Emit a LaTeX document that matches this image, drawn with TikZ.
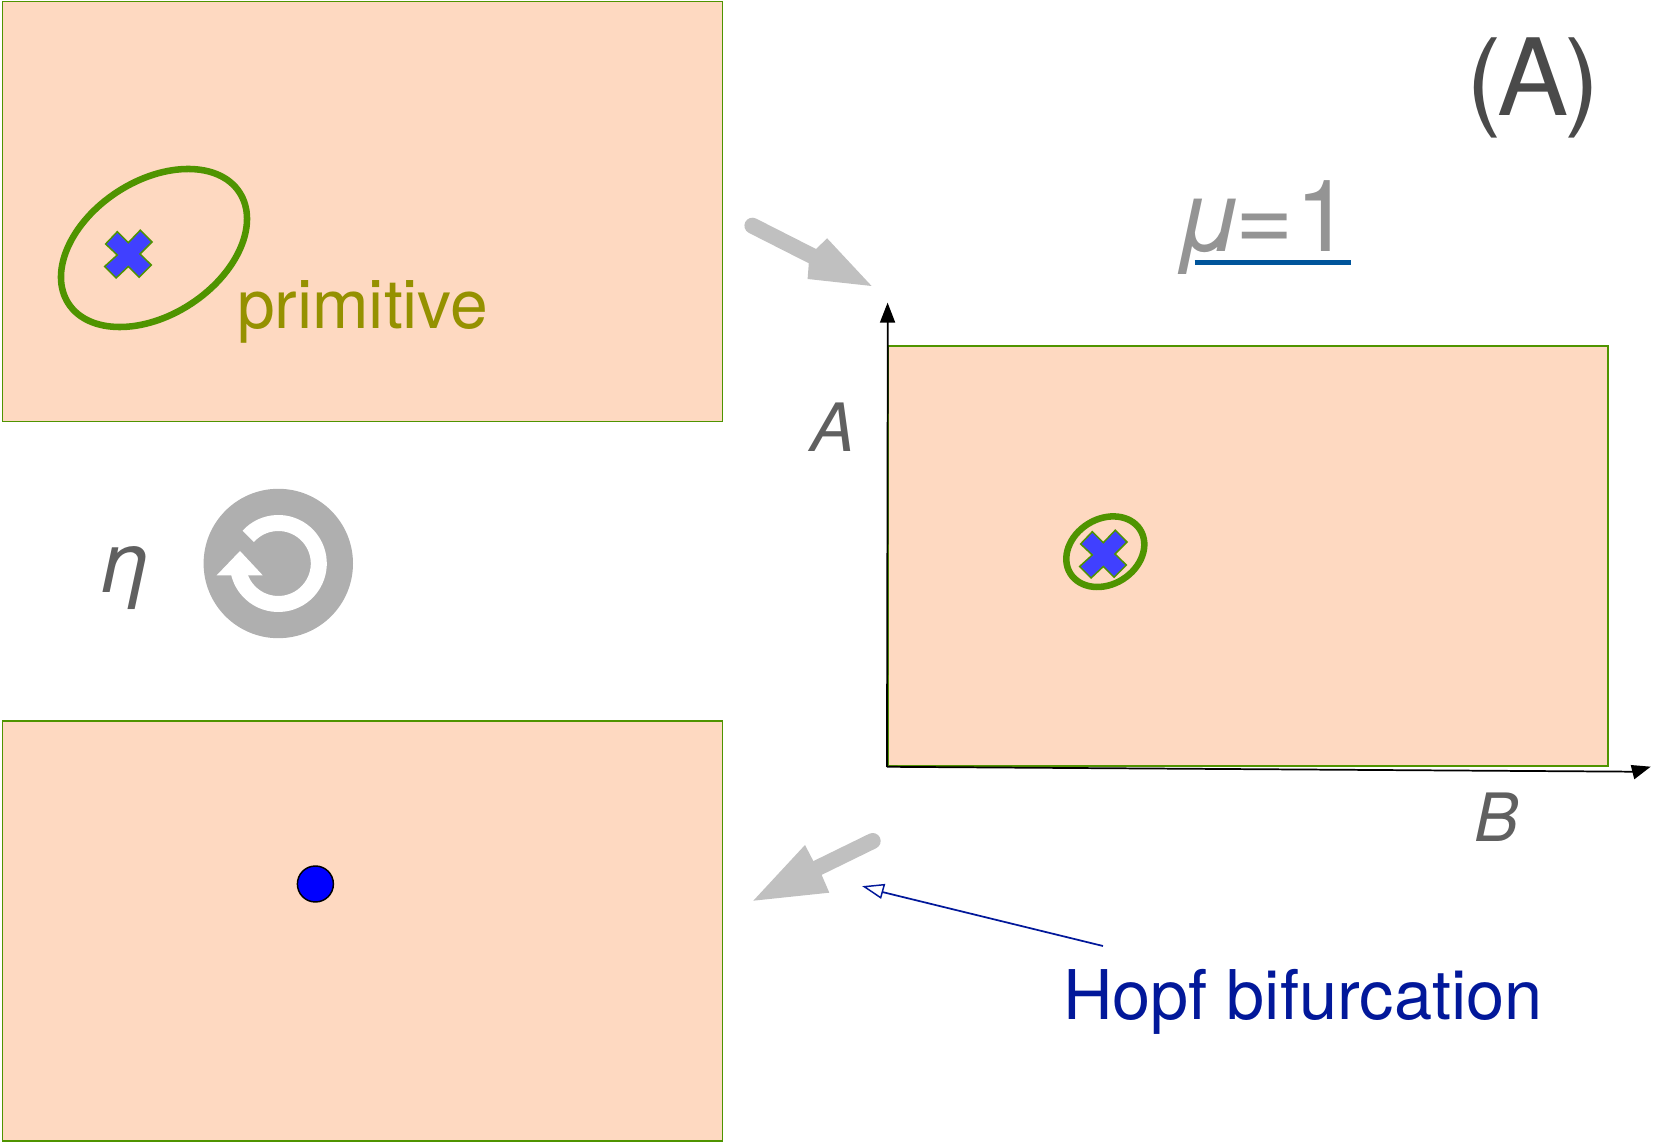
\documentclass[tikz,border=0pt]{standalone}
\usepackage{fontspec}
\setmainfont{TeX Gyre Heros}
\usetikzlibrary{calc}
\definecolor{panelfill}{HTML}{FED9C1}
\definecolor{panelline}{HTML}{4F9400}
\definecolor{crossfill}{HTML}{4040FF}
\definecolor{fatgray}{HTML}{C0C0C0}
\definecolor{hopfblue}{HTML}{02189A}
\definecolor{primcol}{HTML}{959100}
\definecolor{iconcol}{HTML}{AFAFAF}
\definecolor{labelgray}{HTML}{606060}
\definecolor{mugray}{HTML}{949494}
\definecolor{ulblue}{HTML}{00559B}
\newcommand{\pxfont}[1]{\fontsize{#1}{#1}\selectfont}
\newcommand{\crossat}[2]{\draw[crossstyle,shift={(#1,#2)}] (-11,22.3) -- (0,11.3) -- (12,23.8) -- (23.7,12) -- (11.7,0) -- (23,-11) -- (10.8,-23.3) -- (0,-12.5) -- (-12.2,-24) -- (-23.7,-12.5) -- (-11,-1) -- (-22.7,10) -- cycle;}
\tikzset{
  panel/.style={draw=panelline,fill=panelfill,line width=1.2pt,minimum width=540pt,minimum height=315pt,inner sep=0pt,anchor=center},
  crossstyle/.style={draw=panelline,fill=crossfill,line width=1.1pt,line join=miter},
  orbit/.style={draw=panelline,line width=4.9pt},
  fatstem/.style={draw=fatgray,line width=12pt,line cap=round},
  fathead/.style={fill=fatgray},
  axisline/.style={draw=black,line width=1.3pt},
  axishead/.style={fill=black},
  txt/.style={anchor=base west,inner sep=0pt,outer sep=0pt},
}
\begin{document}
\begin{tikzpicture}[x=0.75pt,y=0.75pt]
\useasboundingbox (0,0) rectangle (1654,1143);
% panels
\node[panel] (ptop) at (362.5,931.5) {};
\node[panel] (pbot) at (362.5,211.75) {};
\node[panel] (pmain) at (1247.75,587) {};
% orbit and crosses
\draw[orbit] (154,895) ellipse[x radius=102,y radius=67,rotate=33];
\crossat{128.3}{889}
\node[txt,text=primcol] (prim) at (237,814) {\pxfont{50.9}primitive};
\draw[orbit] (1105.3,591.3) ellipse[x radius=41.2,y radius=32.7,rotate=32];
\crossat{1103.3}{589}
\draw[draw=black,fill=blue,line width=1.1pt] (315.4,259) circle[radius=18];
% rotation icon
\coordinate (ic) at (278.3,579.5);
\fill[iconcol] (ic) circle[radius=74.7];
\draw[white,line width=12pt] ($(ic)+(138:40.5)$) arc[start angle=138,end angle=-170,radius=40.5];
\fill[white] (216.7,567.7) -- (262.7,567.7) -- (240,592) -- cycle;
\node[txt,text=labelgray] (eta) at (105,550.3) {\pxfont{64}\itshape η};
% fat arrows
\coordinate (fa1) at (752.4,917.3);
\coordinate (fa1b) at (812.5,886.8);
\draw[fatstem] (fa1) -- (fa1b);
\fill[fathead] (871.6,857) -- (827.1,904.7) -- (816.1,894) -- (808.8,879.7) -- (807.6,864) -- cycle;
\coordinate (fa2) at (872.7,302);
\coordinate (fa2b) at (817.5,275);
\draw[fatstem] (fa2) -- (fa2b);
\fill[fathead] (753.3,242.3) -- (805,298) -- (813.3,282) -- (821.7,268) -- (829.3,250.3) -- cycle;
% axes
\coordinate (orig) at (pmain.south west);
\coordinate (atop) at (887.8,821);
\coordinate (bend) at (1634,371.3);
\draw[axisline] (orig) -- (atop);
\fill[axishead] (887.6,840.3) -- (879.8,820.3) -- (895.3,820.3) -- cycle;
\draw[axisline] (orig) -- (bend);
\fill[axishead] (1630.7,378) -- (1650.7,376.3) -- (1634.3,363.7) -- cycle;
\node[txt,text=labelgray] (la) at (810,691) {\pxfont{50}\itshape A};
\node[txt,text=labelgray] (lb) at (1474,301.3) {\pxfont{50}\itshape B};
% mu
\node[txt,text=mugray] (mu) at (1174,891.3) {\pxfont{75}\textit{μ}\kern-6.3pt=\kern1.5pt 1};
\draw[ulblue,line width=4pt] (1194.5,880.4) -- (1351,880.4);
% (A)
\node[txt,text=black!71] (tag) at (1466,1027) {\pxfont{80}(\kern-3pt A\kern-3pt)};
% Hopf
\coordinate (hs) at (1103,197);
\coordinate (hb) at (881,251.3);
\draw[hopfblue,line width=1.3pt] (hs) -- (hb);
\draw[hopfblue,fill=white,line width=1.1pt] (864.3,256.3) -- (884.3,258.3) -- (880.7,245.3) -- cycle;
\node[txt,text=hopfblue] (hopf) at (1063,123) {\pxfont{51.4}Hopf bifurcation};
\end{tikzpicture}
\end{document}
